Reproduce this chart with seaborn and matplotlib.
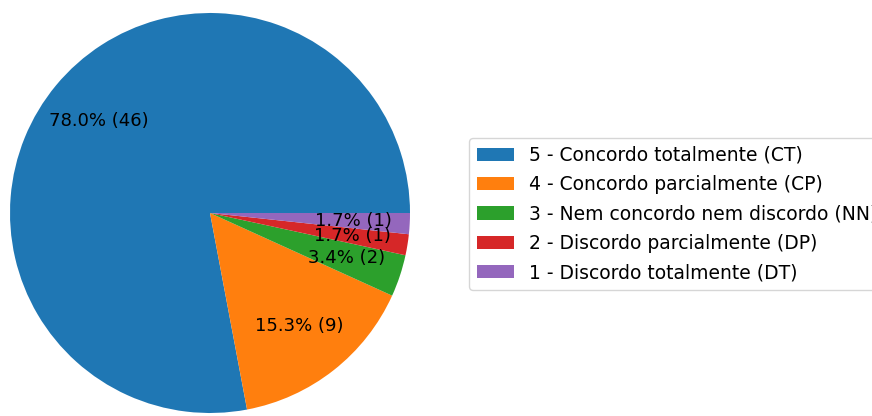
import matplotlib
matplotlib.use('Agg')
import matplotlib.pyplot as plt
import seaborn as sns

# Dados
categorias = ['5 - Concordo totalmente (CT)',
              '4 - Concordo parcialmente (CP)',
              '3 - Nem concordo nem discordo (NN)',
              '2 - Discordo parcialmente (DP)',
              '1 - Discordo totalmente (DT)']
respostas = [46, 9, 2, 1, 1]

total = sum(respostas)
cores = sns.color_palette("tab10", len(respostas))

plt.rcParams['font.family'] = 'DejaVu Sans'

fig = plt.figure(figsize=(8.72, 4.16), dpi=100)
ax = fig.add_axes([10 / 872, 3 / 416, 400 / 872, 400 / 416])

wedges, textos, autotextos = ax.pie(
    respostas, colors=cores, startangle=0, pctdistance=0.72,
    autopct=lambda p: f'{p:.1f}% ({round(p * total / 100)})',
    textprops={'fontsize': 13})
ax.set_xlim(-1, 1)
ax.set_ylim(-1, 1)
ax.set_aspect('equal')

fig.legend(wedges, categorias, loc='center left',
           bbox_to_anchor=(469 / 872, 202 / 416),
           bbox_transform=fig.transFigure, borderaxespad=0,
           fontsize=13.5, labelspacing=0.55)

plt.savefig('out.png', dpi=100)
